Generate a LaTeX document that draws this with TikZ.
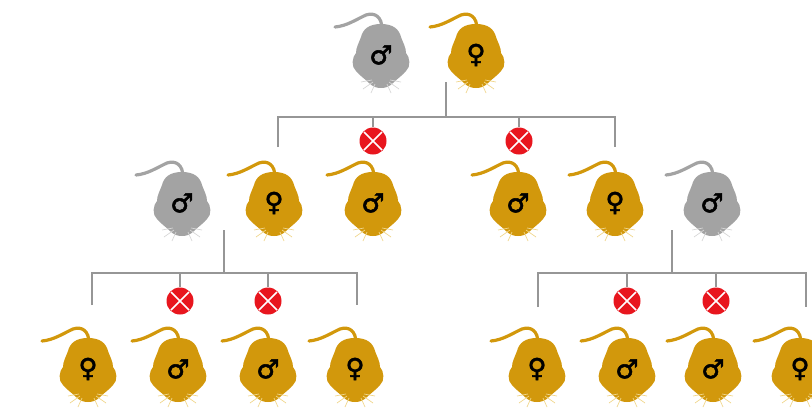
\documentclass[tikz,border=0pt]{standalone}
\usepackage{fontspec}
\newfontfamily\sexfont[FakeBold=2]{DejaVu Sans}
\usetikzlibrary{positioning}

\definecolor{furgold}{RGB}{210,152,12}
\definecolor{furgrey}{RGB}{163,163,163}
\definecolor{whiskgold}{RGB}{240,214,140}
\definecolor{whiskgrey}{RGB}{214,214,214}
\definecolor{crossred}{RGB}{232,22,30}
\definecolor{treeline}{RGB}{150,150,150}

\tikzset{
  pics/mouse/.style 2 args={code={
    % tail
    \draw[#1,line width=3.2pt,line cap=round] (1,-26) .. controls (1,-38) and (-6,-43) .. (-15,-40)
      .. controls (-24,-36) and (-34,-29) .. (-46,-28);
    % body, snout down
    \fill[#1] (0,-31) .. controls (12,-31) and (18,-26) .. (20,-18)
      .. controls (22,-12) and (25,-8) .. (25,-2) .. controls (29,2) and (30,12) .. (25,16)
      .. controls (22,20) and (16,24) .. (12,28) .. controls (8,32) and (4,33) .. (0,33)
      .. controls (-4,33) and (-8,32) .. (-12,28) .. controls (-16,24) and (-22,20) .. (-25,16)
      .. controls (-30,12) and (-29,2) .. (-25,-2) .. controls (-25,-8) and (-22,-12) .. (-20,-18)
      .. controls (-18,-26) and (-12,-31) .. (0,-31) -- cycle;
    % whiskers
    \draw[#2,line width=0.7pt] (-9,25) -- (-20,27) (-8,27) -- (-18,34) (-6,29) -- (-10,38)
      (9,25) -- (20,27) (8,27) -- (18,34) (6,29) -- (10,38);
  }},
  sex/.style={font=\sexfont\fontsize{26}{26}\selectfont, inner sep=0pt},
  cross/.style={circle, fill=crossred, minimum size=27pt, inner sep=0pt,
    path picture={\draw[white,line width=1.6pt,shift={(path picture bounding box.center)}]
      (-9,-9) -- (9,9) (-9,9) -- (9,-9);}},
  tree/.style={treeline, line width=1.6pt},
}

\begin{document}
\begin{tikzpicture}[x=1pt,y=-1pt]
\useasboundingbox (0,0) rectangle (812,408);

% parents
\pic at (381,55) {mouse={furgrey}{whiskgrey}};
\node[sex] (pm) at (381,55) {♂};
\pic at (476,55) {mouse={furgold}{whiskgold}};
\node[sex] (pf) at (476,55) {♀};

% first generation
\pic at (182,203) {mouse={furgrey}{whiskgrey}};
\node[sex] (a1) at (182,203) {♂};
\pic at (274,203) {mouse={furgold}{whiskgold}};
\node[sex] (a2) at (274,203) {♀};
\pic at (373,203) {mouse={furgold}{whiskgold}};
\node[sex] (a3) at (373,203) {♂};
\pic at (518,203) {mouse={furgold}{whiskgold}};
\node[sex] (a4) at (518,203) {♂};
\pic at (615,203) {mouse={furgold}{whiskgold}};
\node[sex] (a5) at (615,203) {♀};
\pic at (712,203) {mouse={furgrey}{whiskgrey}};
\node[sex] (a6) at (712,203) {♂};

% second generation
\pic at (88,369) {mouse={furgold}{whiskgold}};
\node[sex] (b1) at (88,369) {♀};
\pic at (178,369) {mouse={furgold}{whiskgold}};
\node[sex] (b2) at (178,369) {♂};
\pic at (268,369) {mouse={furgold}{whiskgold}};
\node[sex] (b3) at (268,369) {♂};
\pic at (355,369) {mouse={furgold}{whiskgold}};
\node[sex] (b4) at (355,369) {♀};
\pic at (537,369) {mouse={furgold}{whiskgold}};
\node[sex] (b5) at (537,369) {♀};
\pic at (627,369) {mouse={furgold}{whiskgold}};
\node[sex] (b6) at (627,369) {♂};
\pic at (713,369) {mouse={furgold}{whiskgold}};
\node[sex] (b7) at (713,369) {♂};
\pic at (800,369) {mouse={furgold}{whiskgold}};
\node[sex] (b8) at (800,369) {♀};

% lost pups
\node[cross] (x1) at (373,141) {};
\node[cross] (x2) at (519,141) {};
\node[cross] (x3) at (180,301) {};
\node[cross] (x4) at (268,301) {};
\node[cross] (x5) at (627,301) {};
\node[cross] (x6) at (716,301) {};

% pedigree lines
\coordinate (s0) at (446,82);
\coordinate (l0) at (278,117);
\coordinate (r0) at (615,117);
\coordinate (s1) at (224,230);
\coordinate (l1) at (92,273);
\coordinate (r1) at (357,273);
\coordinate (s2) at (672,230);
\coordinate (l2) at (538,273);
\coordinate (r2) at (806,273);

\draw[tree] (s0) -- (s0 |- l0);
\draw[tree] ([yshift=-30pt]l0) -- (l0) -- (r0) -- ([yshift=-30pt]r0);
\draw[tree] (x1.north) -- (x1 |- l0);
\draw[tree] (x2.north) -- (x2 |- l0);

\draw[tree] (s1) -- (s1 |- l1);
\draw[tree] ([yshift=-32pt]l1) -- (l1) -- (r1) -- ([yshift=-32pt]r1);
\draw[tree] (x3.north) -- (x3 |- l1);
\draw[tree] (x4.north) -- (x4 |- l1);

\draw[tree] (s2) -- (s2 |- l2);
\draw[tree] ([yshift=-34pt]l2) -- (l2) -- (r2) -- ([yshift=-34pt]r2);
\draw[tree] (x5.north) -- (x5 |- l2);
\draw[tree] (x6.north) -- (x6 |- l2);
\end{tikzpicture}
\end{document}
